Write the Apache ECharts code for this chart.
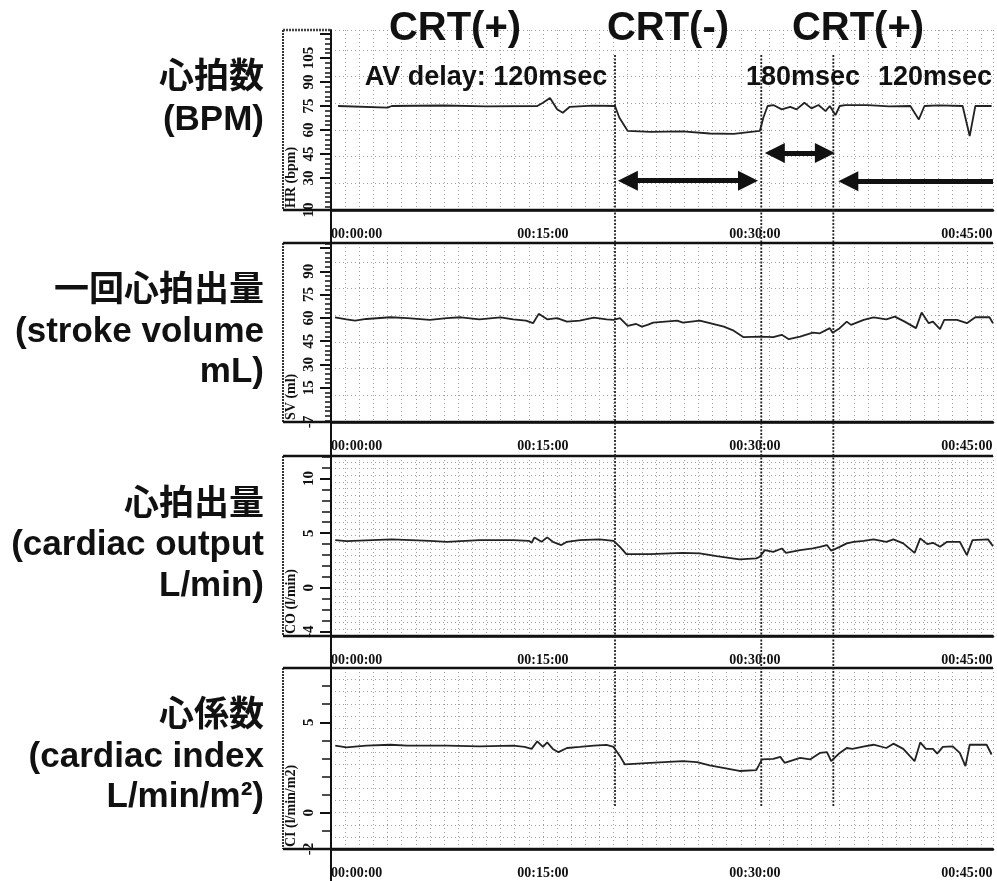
<!DOCTYPE html>
<html><head><meta charset="utf-8">
<script src="https://cdn.jsdelivr.net/npm/echarts@6/dist/echarts.min.js"></script>
<style>html,body{margin:0;padding:0;background:#fff}#c{width:997px;height:881px}</style>
</head><body><div id="c"></div>
<script>
// ---------- DATA (time in minutes) ----------
const HR_T = [0.5, 4.0, 4.3, 8.0, 11.0, 14.6, 15.0, 15.5, 16.0, 16.4, 16.9, 18.5, 20.1, 20.4, 21.0, 22.6, 24.9, 26.8, 28.5, 30.35, 30.6, 30.9, 31.3, 31.9, 32.5, 32.95, 33.5, 34.0, 34.5, 35.0, 35.3, 35.7, 36.0, 36.4, 38.0, 39.5, 41.0, 41.6, 42.0, 43.0, 44.7, 45.2, 45.6, 46.75];
const HR_V = [75, 74, 75, 75.3, 74.8, 75, 77, 80, 73, 70.8, 74.5, 75.2, 75, 67.8, 59.4, 58.8, 59.2, 57.8, 57.6, 59.4, 67.8, 75, 75.6, 72.9, 74.4, 72.9, 77, 73.5, 75.6, 71.8, 75, 69.3, 75, 75.6, 75.5, 74.8, 75, 66.6, 75, 75.4, 75, 56.2, 75, 75];

const SV_T = [0.28, 1.1, 1.7, 2.5, 4.2, 5.4, 7.0, 8.2, 9.2, 10.5, 12.0, 12.9, 13.8, 14.3, 14.7, 15.3, 16.0, 16.7, 17.6, 18.6, 19.5, 20.0, 20.45, 21.0, 21.6, 22.0, 22.4, 22.8, 24.5, 24.9, 26.1, 27.8, 28.5, 29.2, 30.35, 31.3, 31.9, 32.4, 33.2, 34.1, 34.6, 35.3, 35.5, 36.0, 36.5, 36.8, 37.7, 38.4, 39.3, 39.9, 40.6, 41.4, 41.8, 42.3, 42.6, 43.1, 43.4, 44.3, 45.0, 45.6, 46.6, 46.85];
const SV_V = [60.4, 59.1, 58.3, 59.3, 60.4, 59.8, 58.7, 59.8, 60.4, 59.1, 60.4, 59.1, 58.3, 56.6, 62.6, 59.1, 59.8, 57.6, 58.3, 60.2, 59.1, 58.7, 59.8, 54.8, 56.1, 54.4, 55.5, 57.0, 58.3, 57.0, 58.3, 54.4, 51.8, 47.6, 48.0, 47.6, 49.1, 46.3, 48.0, 50.5, 50.1, 53.4, 50.5, 53.4, 57.6, 55.5, 58.7, 60.4, 59.1, 60.8, 57.6, 53.4, 63.4, 56.6, 57.6, 52.7, 58.7, 58.7, 56.6, 60.4, 60.4, 56.6];

const CO_T = [0.3, 1.1, 4.3, 7.0, 8.2, 10.5, 12.9, 14.0, 14.2, 14.4, 14.9, 15.3, 15.7, 16.3, 16.7, 17.6, 19.0, 20.0, 20.45, 20.9, 22.6, 24.9, 26.1, 27.3, 28.9, 30.1, 30.35, 30.7, 31.3, 31.9, 32.2, 33.2, 34.1, 34.6, 35.1, 35.4, 36.0, 36.5, 37.0, 37.7, 38.4, 39.3, 39.8, 40.5, 41.3, 41.7, 42.2, 42.6, 43.1, 43.6, 44.5, 45.0, 45.4, 46.5, 46.85];
const CO_V = [4.36, 4.27, 4.43, 4.30, 4.21, 4.36, 4.36, 4.30, 4.12, 4.61, 4.21, 4.61, 4.21, 3.91, 4.21, 4.36, 4.43, 4.30, 3.75, 3.08, 3.08, 3.2, 3.15, 2.9, 2.6, 2.69, 2.84, 3.45, 3.29, 3.6, 3.2, 3.45, 3.6, 3.75, 3.91, 3.39, 3.75, 4.06, 4.21, 4.30, 4.43, 4.21, 4.43, 4.06, 3.2, 4.52, 4.0, 4.12, 3.75, 4.21, 4.21, 2.99, 4.36, 4.43, 3.81];

const CI_T = [0.3, 1.1, 2.5, 4.2, 5.4, 8.2, 10.5, 12.9, 13.7, 14.2, 14.6, 15.0, 15.3, 15.7, 16.1, 16.7, 17.6, 18.6, 19.5, 20.0, 20.45, 20.8, 22.6, 24.9, 25.9, 26.8, 28.9, 30.1, 30.5, 31.3, 31.8, 32.1, 33.2, 33.9, 34.6, 35.1, 35.4, 36.0, 36.5, 36.9, 37.75, 38.4, 39.3, 39.8, 40.5, 41.3, 41.7, 42.1, 42.6, 42.9, 43.3, 44.0, 44.5, 44.9, 45.2, 46.4, 46.75];
const CI_V = [3.71, 3.62, 3.71, 3.76, 3.71, 3.71, 3.67, 3.71, 3.64, 3.53, 3.95, 3.64, 3.89, 3.53, 3.35, 3.58, 3.64, 3.71, 3.75, 3.64, 3.13, 2.67, 2.76, 2.85, 2.80, 2.62, 2.31, 2.36, 2.95, 2.98, 3.09, 2.76, 3.04, 2.95, 3.31, 3.35, 2.85, 3.31, 3.58, 3.53, 3.67, 3.76, 3.58, 3.82, 3.53, 2.85, 3.89, 3.53, 3.53, 3.27, 3.64, 3.67, 3.31, 2.58, 3.76, 3.76, 3.22];

// Time axis tick labels (minutes)
const TIME_TICKS = [0, 15, 30, 45];
const TIME_MAX = 46.85;
// Event (CRT on/off, AV delay change) times, minutes
const EVENT_T = [20.1, 30.45, 35.55];
// Arrows in HR panel: [startTip, endTip, HR level, doubleHeaded]
const ARROW_START = [20.3, 30.7, 35.9];
const ARROW_END = [30.22, 35.66, 46.85];
const ARROW_LEVEL = [28.3, 45.7, 27.9];
const ARROW_BOTH = [true, true, false];

// Y tick labels
const HR_LABELS = [10, 30, 45, 60, 75, 90, 105];
const SV_LABELS = [-7, 15, 30, 45, 60, 75, 90];
const CO_LABELS = [-4, 0, 5, 10];
const CI_LABELS = [-2, 0, 5];

// Text
const TOP_TITLES = ['CRT(+)', 'CRT(-)', 'CRT(+)'];
const AV_TEXTS = ['AV delay: 120msec', '180msec', '120msec'];
const LEFT_TEXTS = [
  ['心拍数', '(BPM)'],
  ['一回心拍出量', '(stroke volume', 'mL)'],
  ['心拍出量', '(cardiac output', 'L/min)'],
  ['心係数', '(cardiac index', 'L/min/m²)']
];
const AXIS_NAMES = ['HR (bpm)', 'SV (ml)', 'CO (l/min)', 'CI (l/min/m2)'];

// ---------- LAYOUT ----------
const GL = 331, GR = 993, BOXL = 283;
const panels = [
  {top: 30, h: 180, min: 10, max: 122.5, labels: HR_LABELS, major: [10,30,45,60,75,90,105,120], minorStep: 3, rows: 26.7, t: HR_T, v: HR_V},
  {top: 243, h: 179, min: -7, max: 108.2, labels: SV_LABELS, major: [15,30,45,60,75,90,105], minorStep: 3, rows: 26.7, t: SV_T, v: SV_V},
  {top: 456, h: 180, min: -4.4, max: 12.05, labels: CO_LABELS, major: [-4,0,5,10], minorStep: 1, rows: 6.7, t: CO_T, v: CO_V},
  {top: 668, h: 181, min: -2, max: 8.0, labels: CI_LABELS, major: [0,5], minorStep: 1, rows: 12.1, t: CI_T, v: CI_V}
];
const serif = '"Liberation Serif","DejaVu Serif",serif';
const sans = '"Liberation Sans","Noto Sans CJK JP",Arial,sans-serif';

const grids = [], xAxes = [], yAxes = [], series = [];
panels.forEach((p, i) => {
  grids.push({left: GL, right: 997 - GR, top: p.top, height: p.h, containLabel: false});
  xAxes.push({
    type: 'value', gridIndex: i, min: 0, max: TIME_MAX, position: 'bottom',
    axisLine: {show: true, onZero: false, lineStyle: {color: '#111', width: 2.5}},
    axisTick: {show: false}, splitLine: {show: false},
    axisLabel: {customValues: TIME_TICKS, alignMinLabel: 'left', margin: 17,
      color: '#111', fontFamily: serif, fontWeight: 'bold', fontSize: 14,
      formatter: v => '00:' + String(Math.round(v)).padStart(2, '0') + ':00'}
  });
  xAxes.push({
    type: 'value', gridIndex: i, min: 0, max: TIME_MAX, interval: 1, position: 'bottom',
    axisLine: {show: false, onZero: false}, axisTick: {show: false}, axisLabel: {show: false},
    splitLine: {show: true, lineStyle: {color: '#a0a0a0', width: 1, type: [1, 3]}}
  });
  const minors = [];
  for (let k = Math.ceil(p.min / p.minorStep) * p.minorStep; k <= p.max; k += p.minorStep) {
    if (p.major.indexOf(k) < 0) minors.push(k);
  }
  yAxes.push({
    type: 'value', gridIndex: i, min: p.min, max: p.max, position: 'left',
    axisLine: {show: true, onZero: false, lineStyle: {color: '#111', width: 2}},
    axisTick: {show: true, customValues: p.major, length: 11, lineStyle: {color: '#111', width: 2}},
    axisLabel: {customValues: p.labels, rotate: 90, margin: 14, color: '#111',
      fontFamily: serif, fontWeight: 'bold', fontSize: 15},
    splitLine: {show: false}
  });
  yAxes.push({
    type: 'value', gridIndex: i, min: p.min, max: p.max, position: 'left',
    axisLine: {show: false, onZero: false},
    axisTick: {show: true, customValues: minors, length: i < 2 ? 6 : 9, lineStyle: {color: '#111', width: 1.5}},
    axisLabel: {show: false}, splitLine: {show: false}
  });
  yAxes.push({
    type: 'value', gridIndex: i, min: 0, max: p.h / p.rows, interval: 1, position: 'left',
    axisLine: {show: false, onZero: false}, axisTick: {show: false}, axisLabel: {show: false},
    splitLine: {show: true, lineStyle: {color: '#a0a0a0', width: 1, type: [1, 3]}}
  });
  const s = {
    type: 'line', xAxisIndex: i * 2, yAxisIndex: i * 3, showSymbol: false, animation: false,
    data: p.t.map((t, k) => [t, p.v[k]]),
    lineStyle: {color: '#222', width: 1.8}, z: 5
  };
  if (i === 0) {
    s.markLine = {
      silent: true, animation: false, symbolSize: [20, 20],
      label: {show: false},
      lineStyle: {color: '#111', width: 5, type: 'solid'},
      data: ARROW_START.map((a, k) => {
        const off = 0.71;
        const s0 = a + off;
        const e0 = ARROW_BOTH[k] ? ARROW_END[k] - off : ARROW_END[k];
        return [
          {coord: [s0, ARROW_LEVEL[k]], symbol: 'triangle'},
          {coord: [e0, ARROW_LEVEL[k]], symbol: ARROW_BOTH[k] ? 'triangle' : 'none'}
        ];
      })
    };
  }
  series.push(s);
});

const chart = echarts.init(document.getElementById('c'), null, {renderer: 'canvas'});
chart.setOption({
  animation: false, backgroundColor: '#fff',
  grid: grids, xAxis: xAxes, yAxis: yAxes, series: series
});

// ---------- decorations ----------
const g = [];
const line = (x1, y1, x2, y2, w, dash, color) => ({
  type: 'line', silent: true, z: 50,
  shape: {x1, y1, x2, y2},
  style: {stroke: color || '#111', lineWidth: w, lineDash: dash || null}
});
panels.forEach((p, i) => {
  const b = p.top + p.h;
  g.push(line(BOXL, p.top, BOXL, b, 2, [2, 1], '#333'));
  g.push(line(BOXL, b, GR, b, 2.5));
  g.push(line(BOXL, p.top, i === 0 ? GL : GR, p.top, 2.5, i === 0 ? [2, 1] : null, i === 0 ? '#444' : '#111'));
  g.push({type: 'text', silent: true, z: 60, x: 291, y: b - 2, rotation: Math.PI / 2,
    style: {text: AXIS_NAMES[i], font: 'bold 14px ' + serif, fill: '#111', align: 'left', verticalAlign: 'middle'}});
});
g.push(line(GL, 30, GL, 881, 2));
EVENT_T.forEach(t => {
  const x = chart.convertToPixel({xAxisIndex: 0}, t);
  g.push(line(x, 55, x, 806, 1.8, [2, 1.5], '#222'));
});
// top titles
const titleX = [455, 668, 858];
TOP_TITLES.forEach((t, k) => g.push({type: 'text', silent: true, z: 60, x: titleX[k], y: 29,
  style: {text: t, font: 'bold 40px ' + sans, fill: '#111', align: 'center', verticalAlign: 'middle'}}));
const avX = [486, 803, 935];
AV_TEXTS.forEach((t, k) => g.push({type: 'text', silent: true, z: 60, x: avX[k], y: 78,
  style: {text: t, font: 'bold 27px ' + sans, fill: '#111', align: 'center', verticalAlign: 'middle'}}));
// left labels
const leftY = [[78, 120], [291, 332, 372], [505, 545, 586], [716, 757, 797]];
LEFT_TEXTS.forEach((arr, i) => arr.forEach((t, k) => g.push({type: 'text', silent: true, z: 60,
  x: 264, y: leftY[i][k],
  style: {text: t, font: 'bold 35px ' + sans, fill: '#111', align: 'right', verticalAlign: 'middle'}})));
chart.setOption({graphic: g});
</script>
</body></html>
